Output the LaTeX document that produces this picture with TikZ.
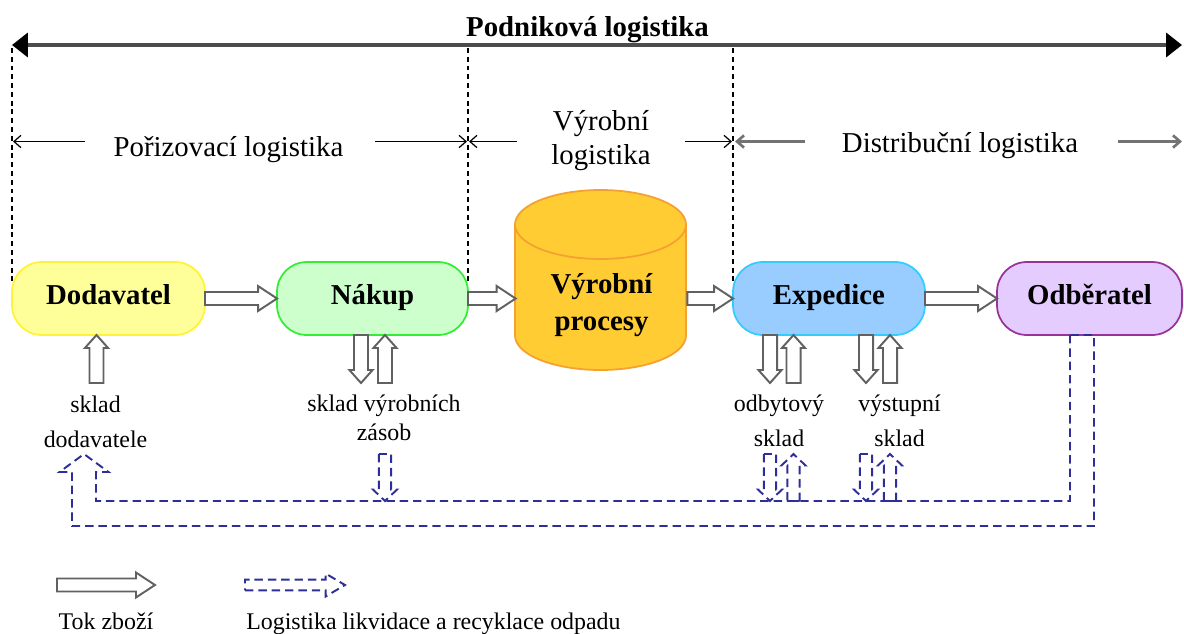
\documentclass[tikz,border=0pt]{standalone}
\usepackage{fontspec}
\setmainfont{Liberation Serif}
\usetikzlibrary{arrows.meta,calc}

% box colours
\definecolor{dodfill}{HTML}{FFFF99}
\definecolor{doddraw}{HTML}{FFF23A}
\definecolor{nakfill}{HTML}{CCFFCC}
\definecolor{nakdraw}{HTML}{33EE33}
\definecolor{cylfill}{HTML}{FFCC33}
\definecolor{cyldraw}{HTML}{F5A030}
\definecolor{expfill}{HTML}{99CCFF}
\definecolor{expdraw}{HTML}{33CCFF}
\definecolor{odbfill}{HTML}{E5CCFF}
\definecolor{odbdraw}{HTML}{993399}
\definecolor{waste}{HTML}{2E2E99}

% font sizes
\newcommand\fTitle{\bfseries\fontsize{16.4}{20}\selectfont}
\newcommand\fBox{\bfseries\fontsize{16.4}{21.5}\selectfont}
\newcommand\fPart{\fontsize{16.4}{19.3}\selectfont}
\newcommand\fStore{\fontsize{13.6}{19.8}\selectfont}
\newcommand\fStoreB{\fontsize{13.6}{16}\selectfont}
\newcommand\fLegend{\fontsize{13.6}{16}\selectfont}

\tikzset{
  % block arrow drawn as a polygon between the two ends of a "to"
  fat shaft/.store in=\fatShaft,
  fat head/.store in=\fatHead,
  fat length/.store in=\fatLen,
  fat shaft=3.7pt, fat head=7.1pt, fat length=10.8pt,
  fat/.style={to path={
    let \p1=(\tikztostart), \p2=(\tikztotarget),
        \n1={atan2(\y2-\y1,\x2-\x1)}, \n2={veclen(\x2-\x1,\y2-\y1)}
    in {[shift={(\p1)}, rotate=\n1]
      (0pt,-\fatShaft) -- ({\n2*1pt-\fatLen},-\fatShaft) -- ({\n2*1pt-\fatLen},-\fatHead)
      -- ({\n2*1pt},0pt) -- ({\n2*1pt-\fatLen},\fatHead) -- ({\n2*1pt-\fatLen},\fatShaft)
      -- (0pt,\fatShaft) -- cycle}}},
  goods/.style={fat, draw=black!62, fill=white, line width=1.1pt},
  goodsv/.style={goods, fat shaft=4pt, fat head=6.6pt, fat length=7.4pt},
  wasteline/.style={draw=waste, line width=1.1pt, dash pattern=on 4.8pt off 2.8pt},
  wastefat/.style={fat, wasteline, fat shaft=3.5pt, fat head=6.8pt, fat length=6.5pt},
  guide/.style={black, line width=0.6pt, dash pattern=on 2.8pt off 2.2pt},
  span/.style={black!70, line width=2pt,
    {Triangle[length=9pt,width=13.6pt,color=black]}-{Triangle[length=9pt,width=13.6pt,color=black]}},
  part/.style={black, line width=0.7pt, -{Straight Barb[length=4pt,width=7pt]}},
  partgray/.style={black!55, line width=1.5pt, -{Straight Barb[length=4pt,width=7pt]}},
  box/.style={rectangle, rounded corners=17pt, minimum height=1.46cm, inner sep=0pt,
    outer sep=0pt, line width=1pt, font=\fBox, text height=0.66em, text depth=0pt},
  % multi-line labels: the base anchor sits on the last line
  store/.style={font=\fStore, align=center, anchor=base, inner sep=0pt},
}

\begin{document}
\begin{tikzpicture}[x=0.02cm, y=-0.02cm]
\useasboundingbox (0,0) rectangle (1184,633);

% ---- company logistics span
\node[font=\fTitle, anchor=base] (title) at (587.5,36) {Podniková logistika};
\coordinate (spL) at (12,45);
\coordinate (spR) at (1182,45);
\draw[span] (spL) -- (spR);

% ---- section borders
\draw[guide] (12,48) -- (12,285);
\draw[guide] (468,48) -- (468,283);
\draw[guide] (733,48) -- (733,285);

% ---- sections
\node[font=\fPart, anchor=base] (por) at (228.5,156) {Pořizovací logistika};
\node[font=\fPart, anchor=base, align=center] (vyrl) at (601,164) {Výrobní\\logistika};
\node[font=\fPart, anchor=base] (dis) at (960,152) {Distribuční logistika};
\draw[part] (85,141.5) -- (13,141.5);
\draw[part] (375,141.5) -- (467,141.5);
\draw[part] (517,141.5) -- (469,141.5);
\draw[part] (685,141.5) -- (732,141.5);
\draw[partgray] (805,141.5) -- (735,141.5);
\draw[partgray] (1118,141.5) -- (1182,141.5);

% ---- production cylinder
\fill[cylfill] (600.5,335.5) ellipse [x radius=85.5, y radius=34.5];
\draw[cyldraw, line width=1pt] (600.5,335.5) ellipse [x radius=85.5, y radius=34.5];
\fill[cylfill] (515,224.5) rectangle (686,335.5);
\draw[cyldraw, line width=1pt] (515,224.5) -- (515,335.5);
\draw[cyldraw, line width=1pt] (686,224.5) -- (686,335.5);
\draw[cyldraw, fill=cylfill, line width=1pt] (600.5,224.5) ellipse [x radius=85.5, y radius=34.5];
\node[font=\fBox, align=center, minimum width=3.42cm, inner sep=0pt] (vyr) at (601.5,305) {Výrobní\\procesy};

% ---- main chain
\node[box, fill=dodfill, draw=doddraw, minimum width=3.86cm] (dod) at (108.5,298.5) {Dodavatel};
\node[box, fill=nakfill, draw=nakdraw, minimum width=3.82cm] (nak) at (372.5,298.5) {Nákup};
\node[box, fill=expfill, draw=expdraw, minimum width=3.84cm] (exp) at (829,298.5) {Expedice};
\node[box, fill=odbfill, draw=odbdraw, minimum width=3.7cm] (odb) at (1089.5,298.5) {Odběratel};

\draw[goods] (dod.east) to (nak.west);
\draw[goods] (nak.east) to (vyr.west |- nak.east);
\draw[goods] (vyr.east |- nak.east) to (exp.west);
\draw[goods] (exp.east) to (odb.west);

% ---- stores
\node[store] (skdod) at (95.5,447) {sklad\\dodavatele};
\node[store, font=\fStoreB] (skvz) at (384,440) {sklad výrobních\\zásob};
\node[store] (skodb) at (779,446) {odbytový\\sklad};
\node[store] (skvys) at (899.5,446) {výstupní\\sklad};

% rows and columns of the store arrows
\coordinate (yA) at (0,383);
\coordinate (yD) at (0,454);
\coordinate (yW) at (0,501);
\coordinate (yB) at (0,526);
\coordinate (c1) at (96.5,0);
\coordinate (c2) at (361,0);
\coordinate (c3) at (385,0);
\coordinate (c4) at (770,0);
\coordinate (c5) at (793.5,0);
\coordinate (c6) at (866,0);
\coordinate (c7) at (890,0);

\draw[goodsv] (c1 |- yA) to (c1 |- dod.south);
\draw[goodsv] (c2 |- nak.south) to (c2 |- yA);
\draw[goodsv] (c3 |- yA) to (c3 |- nak.south);
\draw[goodsv] (c4 |- exp.south) to (c4 |- yA);
\draw[goodsv] (c5 |- yA) to (c5 |- exp.south);
\draw[goodsv] (c6 |- exp.south) to (c6 |- yA);
\draw[goodsv] (c7 |- yA) to (c7 |- exp.south);

% ---- waste return channel
\coordinate (pinA) at ($(odb.south)+(-19.5,0)$);
\coordinate (pinB) at ($(odb.south)+(4.5,0)$);
\draw[wasteline] (pinA) |- (96,501) -- (96,472) -- (108.5,472) -- (84,454)
  -- (59.5,472) -- (72,472) |- (pinB |- yB) -- (pinB) -- cycle;

\draw[wastefat] (c3 |- yD) to (c3 |- yW);
\draw[wastefat] (c4 |- yD) to (c4 |- yW);
\draw[wastefat] (c5 |- yW) to (c5 |- yD);
\draw[wastefat] (c6 |- yD) to (c6 |- yW);
\draw[wastefat] (c7 |- yW) to (c7 |- yD);

% ---- legend
\coordinate (lg1) at (57,585);
\coordinate (lg2) at (155,585);
\coordinate (lg3) at (245,585);
\coordinate (lg4) at (345,585);
\draw[goods] (lg1) to (lg2);
\draw[wastefat, fat shaft=3.1pt, fat head=6.5pt, fat length=11pt] (lg3) to (lg4);
\node[font=\fLegend, anchor=base] (lgt1) at (106,629) {Tok zboží};
\node[font=\fLegend, anchor=base west, inner sep=0pt] (lgt2) at (246,629) {Logistika likvidace a recyklace odpadu};
\end{tikzpicture}
\end{document}
